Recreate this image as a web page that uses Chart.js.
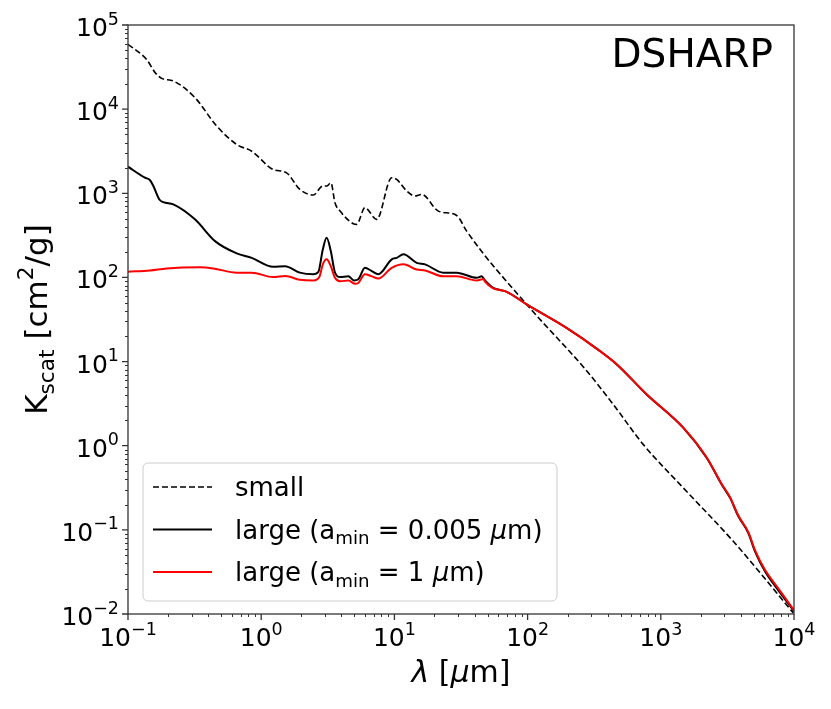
<!DOCTYPE html>
<html>
<head>
<meta charset="utf-8">
<script src="https://cdn.jsdelivr.net/npm/chart.js@4.4.1/dist/chart.umd.min.js"></script>
<style>
  html, body { margin: 0; padding: 0; background: #fff; }
</style>
</head>
<body>
<canvas id="kscat" width="831" height="709"></canvas>
<script>
// wavelength [um] and kappa_scat [cm^2/g]
const lamSmall = [0.1, 0.138, 0.16, 0.179, 0.219, 0.318, 0.463, 0.655, 0.849, 1.23, 1.55, 1.95, 2.46, 2.90, 3.10, 3.34, 3.58, 3.91, 4.92, 5.21, 6.01, 7.36, 9.55, 10.4, 12.4, 14.3, 16.0, 21.4, 27.7, 30.2, 34.9, 98.4, 275, 440, 740, 1476, 3500, 9886];
const kapSmall = [58900, 38900, 27100, 23200, 21600, 13700, 6310, 3800, 3160, 1920, 1750, 1110, 953, 1220, 1220, 1330, 771, 614, 434, 427, 673, 490, 1530, 1460, 1060, 927, 971, 614, 570, 521, 355, 47.8, 7.9, 3.09, 1.03, 0.315, 0.0731, 0.0103];

const lamLarge005 = [0.1, 0.134, 0.146, 0.155, 0.172, 0.184, 0.219, 0.318, 0.45, 0.655, 0.849, 1.23, 1.51, 1.95, 2.46, 2.69, 2.90, 3.10, 3.33, 3.58, 3.91, 4.51, 4.98, 5.36, 6.01, 6.76, 7.57, 9.55, 10.4, 11.7, 14.7, 17.0, 23.3, 29.4, 41.5, 45.2, 47.9, 55.3, 62.1, 69.7, 98.4, 196, 350, 467, 783, 1476, 2213, 2864, 3311, 3819, 4539, 5093, 6053, 7396, 10000];
const kapLarge005 = [2070, 1530, 1440, 1220, 845, 785, 738, 490, 270, 193, 171, 134, 136, 114, 109, 117, 215, 296, 206, 114, 101, 103, 92, 95, 130, 119, 109, 164, 171, 188, 149, 143, 114, 114, 99, 103, 92, 75, 71, 67.5, 47.8, 25.1, 13.3, 9.25, 4.06, 1.63, 0.716, 0.346, 0.24, 0.145, 0.0918, 0.0557, 0.0322, 0.0204, 0.0108];

const lamLarge1 = [0.1, 0.146, 0.195, 0.348, 0.437, 0.655, 0.849, 1.23, 1.51, 1.95, 2.46, 2.73, 2.90, 3.10, 3.33, 3.58, 3.91, 4.51, 5.06, 5.36, 6.01, 6.76, 7.57, 9.55, 11.7, 14.7, 17.0, 23.3, 29.4, 41.5, 46.6, 47.9, 55.3, 62.1, 69.7, 98.4, 196, 350, 467, 783, 1476, 2213, 2864, 3311, 3819, 4539, 5093, 6053, 7396, 10000];
const kapLarge1 = [117, 121, 128, 132, 128, 114, 114, 101, 104, 94, 92, 101, 143, 164, 136, 99, 90, 92, 84, 86, 109, 103, 97, 130, 143, 124, 121, 103, 103, 92, 96, 89, 74, 71, 67.5, 47.8, 25.1, 13.3, 9.3, 4.09, 1.64, 0.724, 0.351, 0.244, 0.148, 0.094, 0.0575, 0.0335, 0.0214, 0.0111];

const seriesNames = ['small', 'large (a_{min} = 0.005 *μ*m)', 'large (a_{min} = 1 *μ*m)'];

const xTickValues = [0.1, 1, 10, 100, 1000, 10000];
const xTickLabels = ['10^{−1}', '10^{0}', '10^{1}', '10^{2}', '10^{3}', '10^{4}'];
const yTickValues = [0.01, 0.1, 1, 10, 100, 1000, 10000, 100000];
const yTickLabels = ['10^{−2}', '10^{−1}', '10^{0}', '10^{1}', '10^{2}', '10^{3}', '10^{4}', '10^{5}'];

const FONT = '"DejaVu Sans", sans-serif';

// tiny markup: _{sub} ^{sup} *italic*
function richParts(str) {
    const parts = [];
    let buf = '', italic = false, i = 0;
    const push = () => { if (buf) parts.push({ t: buf, mode: 'n', italic }); buf = ''; };
    while (i < str.length) {
        const ch = str[i];
        if ((ch === '_' || ch === '^') && str[i + 1] === '{') {
            push();
            const end = str.indexOf('}', i);
            parts.push({ t: str.slice(i + 2, end), mode: ch === '_' ? 'sub' : 'sup', italic });
            i = end + 1;
            continue;
        }
        if (ch === '*') { push(); italic = !italic; i++; continue; }
        buf += ch; i++;
    }
    push();
    return parts;
}

function drawRich(ctx, str, x, y, size, align) {
    const parts = richParts(str);
    const fontFor = p => (p.italic ? 'italic ' : '') + (p.mode === 'n' ? size : size * 0.7).toFixed(1) + 'px ' + FONT;
    let w = 0;
    parts.forEach(p => { ctx.font = fontFor(p); p.w = ctx.measureText(p.t).width; w += p.w; });
    let cx = align === 'center' ? x - w / 2 : (align === 'right' ? x - w : x);
    ctx.textAlign = 'left';
    ctx.textBaseline = 'alphabetic';
    parts.forEach(p => {
        ctx.font = fontFor(p);
        const dy = p.mode === 'sub' ? size * 0.22 : (p.mode === 'sup' ? -size * 0.46 : 0);
        ctx.fillText(p.t, cx, y + dy);
        cx += p.w;
    });
}

// frame, ticks, axis titles, tag
const decor = {
    id: 'decor',
    afterDatasetsDraw(chart) {
        const { ctx, chartArea: a, scales: { x, y } } = chart;
        ctx.save();
        ctx.strokeStyle = '#333';
        ctx.fillStyle = '#000';
        ctx.lineWidth = 1.3;
        ctx.strokeRect(a.left, a.top, a.right - a.left, a.bottom - a.top);

        ctx.lineWidth = 1;
        ctx.beginPath();
        // minor ticks
        for (let e = -1; e < 4; e++) {
            for (let k = 2; k <= 9; k++) {
                const px = Math.round(x.getPixelForValue(k * Math.pow(10, e))) + 0.5;
                ctx.moveTo(px, a.bottom); ctx.lineTo(px, a.bottom + 3);
            }
        }
        for (let e = -2; e < 5; e++) {
            for (let k = 2; k <= 9; k++) {
                const py = Math.round(y.getPixelForValue(k * Math.pow(10, e))) + 0.5;
                ctx.moveTo(a.left, py); ctx.lineTo(a.left - 3, py);
            }
        }
        ctx.stroke();
        // major ticks
        ctx.lineWidth = 1.3;
        ctx.beginPath();
        xTickValues.forEach(v => {
            const px = x.getPixelForValue(v);
            ctx.moveTo(px, a.bottom); ctx.lineTo(px, a.bottom + 6);
        });
        yTickValues.forEach(v => {
            const py = y.getPixelForValue(v);
            ctx.moveTo(a.left, py); ctx.lineTo(a.left - 6, py);
        });
        ctx.stroke();

        // tick labels
        xTickValues.forEach((v, i) => drawRich(ctx, xTickLabels[i], x.getPixelForValue(v), a.bottom + 32, 25, 'center'));
        yTickValues.forEach((v, i) => drawRich(ctx, yTickLabels[i], a.left - 9, y.getPixelForValue(v) + 11, 25, 'right'));

        // axis titles
        drawRich(ctx, '*λ* [*μ*m]', (a.left + a.right) / 2, 682, 30, 'center');
        ctx.save();
        ctx.translate(47, (a.top + a.bottom) / 2);
        ctx.rotate(-Math.PI / 2);
        drawRich(ctx, 'K_{scat} [cm^{2}/g]', 0, 0, 31, 'center');
        ctx.restore();

        // tag
        drawRich(ctx, 'DSHARP', a.right - 21, a.top + 42, 39, 'right');
        ctx.restore();
    }
};

// legend box in lower left
const legendBox = {
    id: 'legendBox',
    afterDatasetsDraw(chart) {
        const { ctx, chartArea: a } = chart;
        const bx = a.left + 15, by = a.bottom - 151, bw = 414, bh = 138;
        ctx.save();
        ctx.beginPath();
        ctx.roundRect(bx, by, bw, bh, 5);
        ctx.fillStyle = 'rgba(255,255,255,0.8)';
        ctx.fill();
        ctx.strokeStyle = '#cccccc';
        ctx.lineWidth = 1;
        ctx.stroke();
        chart.data.datasets.forEach((ds, i) => {
            const ry = by + 24 + i * 42.5;
            ctx.beginPath();
            ctx.setLineDash(ds.borderDash || []);
            ctx.strokeStyle = ds.borderColor;
            ctx.lineWidth = ds.borderWidth;
            ctx.moveTo(bx + 10, ry); ctx.lineTo(bx + 69, ry);
            ctx.stroke();
            ctx.setLineDash([]);
            ctx.fillStyle = '#000';
            drawRich(ctx, seriesNames[i], bx + 92, ry + 9, 26, 'left');
        });
        ctx.restore();
    }
};

const toPts = (xs, ys) => xs.map((v, i) => ({ x: v, y: ys[i] }));

new Chart(document.getElementById('kscat').getContext('2d'), {
    type: 'line',
    data: {
        datasets: [
            {
                label: 'small',
                data: toPts(lamSmall, kapSmall),
                borderColor: '#000',
                borderWidth: 1.6,
                borderDash: [6, 3],
                order: 2
            },
            {
                label: 'large 0.005',
                data: toPts(lamLarge005, kapLarge005),
                borderColor: '#000',
                borderWidth: 2,
                order: 1
            },
            {
                label: 'large 1',
                data: toPts(lamLarge1, kapLarge1),
                borderColor: '#ff0000',
                borderWidth: 2,
                order: 0
            }
        ]
    },
    options: {
        responsive: false,
        animation: false,
        events: [],
        layout: { padding: { top: 25, right: 37, left: 0, bottom: 0 } },
        elements: {
            point: { radius: 0 },
            line: { fill: false, cubicInterpolationMode: 'monotone' }
        },
        plugins: {
            legend: { display: false },
            tooltip: { enabled: false }
        },
        scales: {
            x: {
                type: 'logarithmic',
                min: 0.1,
                max: 10000,
                grid: { display: false },
                border: { display: false },
                ticks: { display: false },
                afterFit: s => { s.height = 95; }
            },
            y: {
                type: 'logarithmic',
                min: 0.01,
                max: 100000,
                grid: { display: false },
                border: { display: false },
                ticks: { display: false },
                afterFit: s => { s.width = 128; }
            }
        }
    },
    plugins: [decor, legendBox]
});
</script>
</body>
</html>
